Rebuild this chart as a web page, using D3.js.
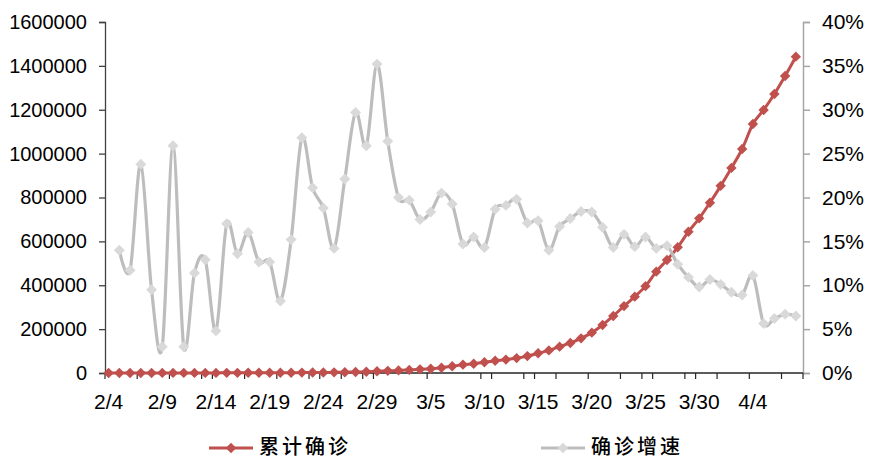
<!DOCTYPE html>
<html>
<head>
<meta charset="utf-8">
<script src="https://cdn.jsdelivr.net/npm/d3@7/dist/d3.min.js"></script>
<style>
  html, body { margin: 0; padding: 0; background: #ffffff; }
  svg { display: block; }
  .tick-label { font-family: "Liberation Sans", Arial, sans-serif; fill: #000; }
  .legend-text { font-family: "Noto Sans CJK SC", sans-serif; fill: #000; }
</style>
</head>
<body>
<svg id="chart" width="871" height="458"></svg>
<script>
// Daily dates, 2/4 through 4/8
const dates = [
  "2/4","2/5","2/6","2/7","2/8","2/9","2/10","2/11","2/12","2/13",
  "2/14","2/15","2/16","2/17","2/18","2/19","2/20","2/21","2/22","2/23",
  "2/24","2/25","2/26","2/27","2/28","2/29","3/1","3/2","3/3","3/4",
  "3/5","3/6","3/7","3/8","3/9","3/10","3/11","3/12","3/13","3/14",
  "3/15","3/16","3/17","3/18","3/19","3/20","3/21","3/22","3/23","3/24",
  "3/25","3/26","3/27","3/28","3/29","3/30","3/31","4/1","4/2","4/3",
  "4/4","4/5","4/6","4/7","4/8"
];

// 累计确诊 (cumulative confirmed cases), one value per date
const cumulative = [
  187, 213, 238, 294, 322, 332, 418, 430, 479, 541,
  567, 664, 754, 875, 985, 1110, 1200, 1380, 1750, 2120,
  2520, 2880, 3515, 4560, 5740, 7760, 9810, 11770, 14090, 16560,
  19600, 24000, 30500, 38000, 42000, 49000, 56000, 61000, 68000, 77000,
  90000, 103000, 120000, 137000, 158000, 184000, 219000, 260000, 305000, 348000,
  396000, 462000, 515000, 573000, 644000, 705000, 776000, 853000, 935000, 1021000,
  1135000, 1199000, 1272000, 1354000, 1442000
];

// 确诊增速 (daily growth rate, %), starting from 2/5
const growth = [
  null, 14.0, 11.7, 23.8, 9.5, 3.0, 25.9, 3.0, 11.4, 12.9,
  4.8, 17.0, 13.6, 16.0, 12.65, 12.65, 8.2, 15.2, 26.8, 21.1,
  18.8, 14.2, 22.1, 29.7, 25.9, 35.2, 26.4, 20.0, 19.7, 17.5,
  18.35, 20.5, 19.25, 14.7, 15.5, 14.3, 18.65, 19.1, 19.8, 17.1,
  17.35, 14.0, 16.7, 17.6, 18.4, 18.35, 16.6, 14.3, 15.8, 14.4,
  15.5, 14.2, 14.5, 12.4, 10.9, 9.8, 10.65, 10.1, 9.2, 8.9,
  11.1, 5.65, 6.2, 6.7, 6.5
];

// Left axis ticks (cases) and right axis ticks (%)
const leftTicks = [0, 200000, 400000, 600000, 800000, 1000000, 1200000, 1400000, 1600000];
const rightTicks = [0, 5, 10, 15, 20, 25, 30, 35, 40];
// Labelled dates, every fifth day
const labelDates = ["2/4","2/9","2/14","2/19","2/24","2/29","3/5","3/10","3/15","3/20","3/25","3/30","4/4"];
// Day slots that carry a tick mark on the date axis
const tickSlots = [-1, 2, 5, 8, 9, 12, 15, 18, 19, 21, 23, 24, 29, 34, 35, 38, 39, 41, 44, 47, 49, 50, 53, 54, 56, 59, 62, 64];

const seriesNames = ["累计确诊", "确诊增速"];

const RED = "#c0504d";
const GRAY_LINE = "#bdbdbd";
const GRAY_MARK = "#d9d9d9";

const svg = d3.select("#chart");
const plot = { left: 105, right: 803, top: 22, bottom: 373 };

const x = d3.scaleLinear()
  .domain([-1 / 3, dates.length - 1 + 2 / 3])
  .range([plot.left, plot.right]);
const yL = d3.scaleLinear().domain([0, 1600000]).range([plot.bottom, plot.top]);
const yR = d3.scaleLinear().domain([0, 40]).range([plot.bottom, plot.top]);

// Left axis
const leftAxis = svg.append("g")
  .attr("transform", `translate(${plot.left},0)`)
  .call(d3.axisLeft(yL).tickValues(leftTicks).tickSize(6).tickPadding(12).tickFormat(d3.format("d")));
leftAxis.select(".domain").attr("stroke", "#404040").attr("stroke-width", 1.3);
leftAxis.selectAll(".tick line").attr("stroke", "#404040").attr("stroke-width", 1.3);
leftAxis.selectAll(".tick text").attr("class", "tick-label").style("font-size", "20px");

// Right axis
const rightAxis = svg.append("g")
  .attr("transform", `translate(${plot.right},0)`)
  .call(d3.axisRight(yR).tickValues(rightTicks).tickSize(7).tickPadding(12).tickFormat(d => d + "%"));
rightAxis.select(".domain").attr("stroke", "#a6a6a6").attr("stroke-width", 1.5);
rightAxis.selectAll(".tick line").attr("stroke", "#a6a6a6").attr("stroke-width", 1.5);
rightAxis.selectAll(".tick text").attr("class", "tick-label").style("font-size", "21px");

// Date axis: baseline, tick marks and labels
const xAxis = svg.append("g");
xAxis.append("line")
  .attr("x1", plot.left).attr("x2", plot.right)
  .attr("y1", plot.bottom).attr("y2", plot.bottom)
  .attr("stroke", "#262626").attr("stroke-width", 1.3);
xAxis.selectAll("line.tm")
  .data(tickSlots)
  .join("line")
  .attr("class", "tm")
  .attr("x1", d => x(d + 2 / 3)).attr("x2", d => x(d + 2 / 3))
  .attr("y1", plot.bottom).attr("y2", plot.bottom + 6)
  .attr("stroke", "#262626").attr("stroke-width", 1.2);
xAxis.selectAll("text")
  .data(labelDates)
  .join("text")
  .attr("class", "tick-label")
  .attr("x", d => x(dates.indexOf(d)))
  .attr("y", 401)
  .attr("text-anchor", "middle")
  .attr("dominant-baseline", "central")
  .style("font-size", "21px")
  .text(d => d);

const diamondGray = d3.symbol(d3.symbolSquare, 60);
const diamondRed = d3.symbol(d3.symbolSquare, 54);

// Cumulative cases (left axis)
const redPts = cumulative.map((v, i) => [x(i), yL(v)]);
svg.append("path")
  .attr("d", d3.line().curve(d3.curveCardinal.tension(0))(redPts))
  .attr("fill", "none").attr("stroke", RED).attr("stroke-width", 3);
svg.append("g").selectAll("path")
  .data(redPts)
  .join("path")
  .attr("d", diamondRed)
  .attr("transform", d => `translate(${d[0]},${d[1]}) rotate(45)`)
  .attr("fill", RED);

// Growth rate (right axis)
const grayPts = growth.map((v, i) => v == null ? null : [x(i), yR(v)]).filter(Boolean);
svg.append("path")
  .attr("d", d3.line().curve(d3.curveCardinal.tension(0))(grayPts))
  .attr("fill", "none").attr("stroke", GRAY_LINE).attr("stroke-width", 3.2);
svg.append("g").selectAll("path")
  .data(grayPts)
  .join("path")
  .attr("d", diamondGray)
  .attr("transform", d => `translate(${d[0]},${d[1]}) rotate(45)`)
  .attr("fill", GRAY_MARK);

// Legend
const legendItems = [
  { name: seriesNames[0], line: RED, mark: RED, x0: 209 },
  { name: seriesNames[1], line: GRAY_LINE, mark: GRAY_MARK, x0: 541 }
];
const lg = svg.append("g").selectAll("g").data(legendItems).join("g")
  .attr("transform", d => `translate(${d.x0},448)`);
lg.append("line").attr("x1", 0).attr("x2", 44).attr("y1", 0).attr("y2", 0)
  .attr("stroke", d => d.line).attr("stroke-width", 3);
lg.append("path").attr("d", diamondRed).attr("transform", "translate(22,0) rotate(45)")
  .attr("fill", d => d.mark);
lg.append("text").attr("class", "legend-text")
  .attr("x", 50).attr("y", -3)
  .attr("dominant-baseline", "central")
  .style("font-size", "20px").style("font-weight", "500").style("letter-spacing", "3px")
  .text(d => d.name);
</script>
</body>
</html>
